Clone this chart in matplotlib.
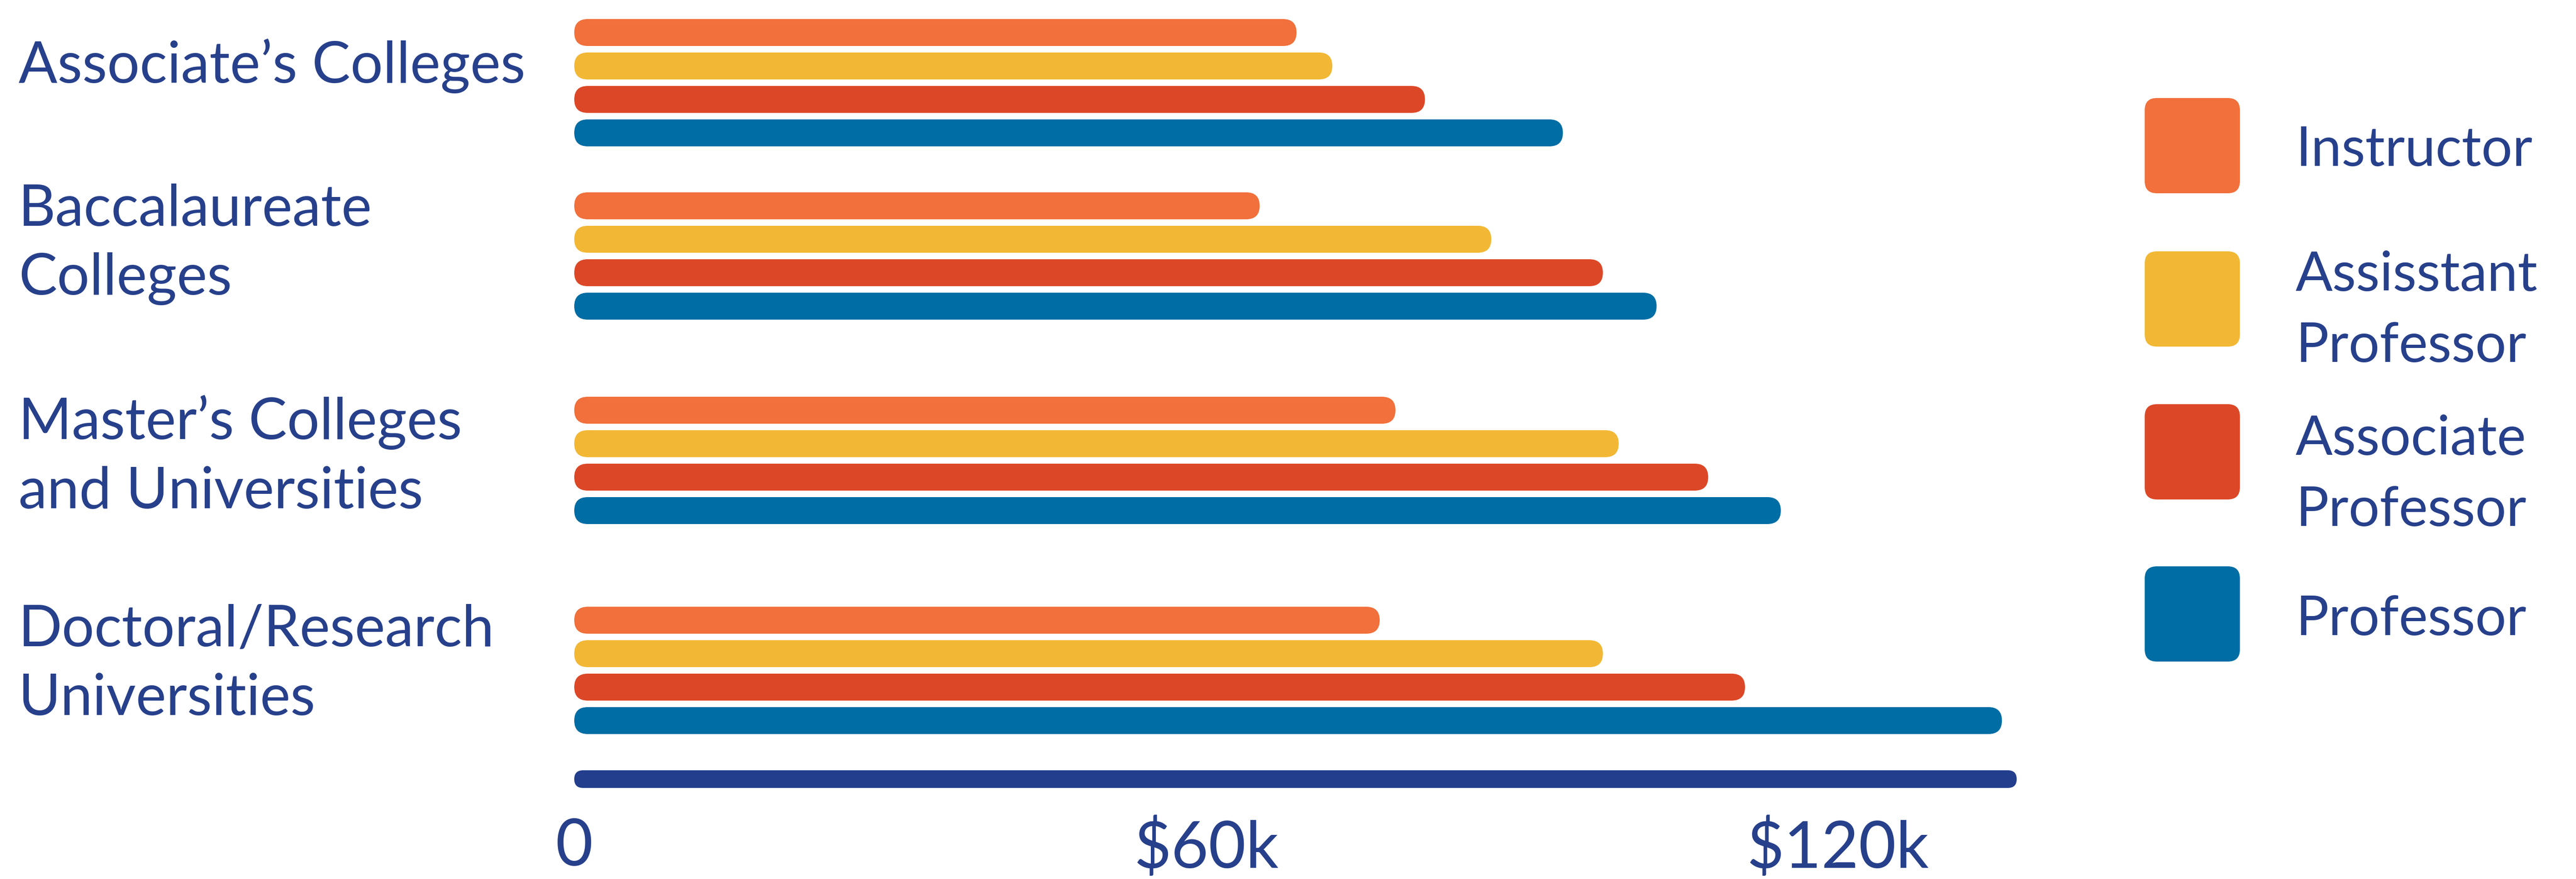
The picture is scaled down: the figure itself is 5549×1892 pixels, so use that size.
import matplotlib.pyplot as plt
from matplotlib.patches import FancyBboxPatch

plt.rcParams['font.family'] = ['Lato', 'DejaVu Sans']

# 数据：各类院校不同职称的平均薪资（美元）
categories = ["Associate’s Colleges", "Baccalaureate\nColleges",
              "Master’s Colleges\nand Universities", "Doctoral/Research\nUniversities"]
ranks = ["Instructor", "Assisstant\nProfessor", "Associate\nProfessor", "Professor"]
instructor = [68600, 65100, 78000, 76500]
assistant = [72000, 87100, 99200, 97700]
associate = [80800, 97700, 107700, 111200]
professor = [93900, 102800, 114600, 135600]
axis_max = 137000
tick_values = [0, 60000, 120000]
tick_labels = ['0', '$60k', '$120k']

colors = ['#F1703B', '#F2B835', '#DC4827', '#006DA4']
axis_color = '#233E8D'
text_color = '#27408B'

# 版面（像素）
W, H, DPI = 5549, 1892, 100
ZERO_PX = 1237
PX_PER_DOLLAR = 22.68 / 1000
group_top = [70, 443, 883, 1335]   # 每组第一根条的中心
row_step = 72
bar_h = 58
axis_y, axis_h = 1677, 38
tick_top = 1760
label_x = 40
label_base = [178, 486, 945, 1391]
label_step = 148
legend_x, legend_size = 4620, 205
legend_top = [211, 541, 870, 1219]
legend_text_x = 4945
legend_base = [357, 626, 979, 1367]
legend_step = 153


def capsule(ax, value, yc, h, color):
    # 两端为半圆的横条，mutation_aspect 让圆角在像素上保持正圆
    m = PX_PER_DOLLAR
    p = FancyBboxPatch((0, yc - h / 2), value, h,
                       boxstyle=f"round,pad=0,rounding_size={h / m / 2}",
                       mutation_aspect=m, fc=color, ec='none')
    ax.add_patch(p)


fig = plt.figure(figsize=(W / DPI, H / DPI), dpi=DPI)
ax = fig.add_axes([0, 0, 1, 1])
ax.set_xlim(-ZERO_PX / PX_PER_DOLLAR, (W - ZERO_PX) / PX_PER_DOLLAR)
ax.set_ylim(H, 0)

series = [instructor, assistant, associate, professor]
for g in range(len(categories)):
    for r, vals in enumerate(series):
        capsule(ax, vals[g], group_top[g] + r * row_step, bar_h, colors[r])

capsule(ax, axis_max, axis_y, axis_h, axis_color)

ax.set_xticks(tick_values, tick_labels)
ax.set_yticks([])
ax.tick_params(axis='x', length=0, pad=-(H - tick_top) * 72 / DPI,
               labelsize=100, labelcolor=text_color)
for s in ax.spines.values():
    s.set_visible(False)

# 文字和图例放在像素坐标的覆盖层上
ov = fig.add_axes([0, 0, 1, 1])
ov.set_xlim(0, W)
ov.set_ylim(H, 0)
ov.axis('off')

for g, name in enumerate(categories):
    for i, line in enumerate(name.split('\n')):
        ov.text(label_x, label_base[g] + i * label_step, line, fontsize=89,
                color=text_color, va='baseline', ha='left')

for r, name in enumerate(ranks):
    ov.add_patch(FancyBboxPatch((legend_x, legend_top[r]), legend_size, legend_size,
                                boxstyle="round,pad=0,rounding_size=26",
                                fc=colors[r], ec='none'))
    for i, line in enumerate(name.split('\n')):
        ov.text(legend_text_x, legend_base[r] + i * legend_step, line, fontsize=85,
                color=text_color, va='baseline', ha='left')

fig.savefig('out.png', dpi=DPI)
